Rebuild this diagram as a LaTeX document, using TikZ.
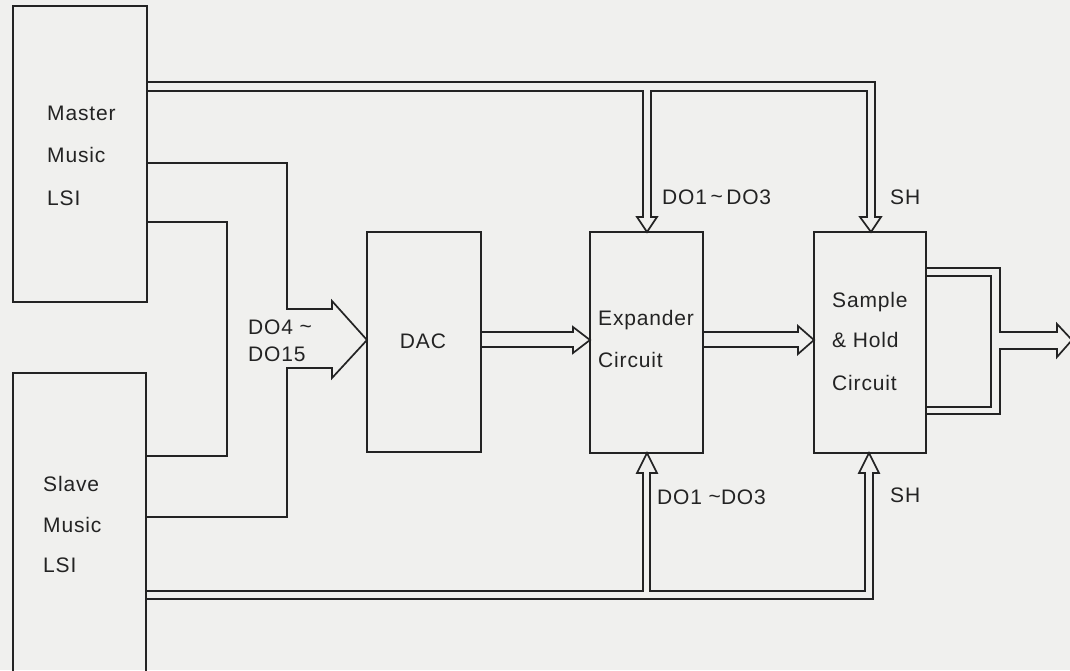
\documentclass[tikz,border=0pt]{standalone}
\usepackage{fontspec}
\setmainfont{Liberation Sans}[LetterSpace=4]
\definecolor{paper}{RGB}{240,240,238}
\definecolor{ink}{RGB}{35,35,35}
\begin{document}
\begin{tikzpicture}[x=1pt,y=-1pt,
  box/.style={draw=ink,line width=2pt,anchor=north west,inner sep=0pt,outer sep=0pt},
  bus/.style={draw=ink,line width=1.7pt,line join=miter},
  lbl/.style={anchor=base west,inner sep=0pt,text=ink,font=\fontsize{21}{25}\selectfont}]
\fill[paper] (0,0) rectangle (1070,670);
\clip (0,0) rectangle (1070,670);
% boxes
\node[box,minimum width=134pt,minimum height=296pt] (master) at (13,6) {};
\node[box,minimum width=133pt,minimum height=330pt] (slave) at (13,373) {};
\node[box,minimum width=114pt,minimum height=220pt] (dac) at (367,232) {};
\node[box,minimum width=113pt,minimum height=221pt] (exp) at (590,232) {};
\node[box,minimum width=112pt,minimum height=221pt] (sh) at (814,232) {};
% texts
\node[lbl] (t1) at (47,120) {Master};
\node[lbl] (t2) at (47,162) {Music};
\node[lbl] (t3) at (47,205) {LSI};
\node[lbl] (t4) at (43,491) {Slave};
\node[lbl] (t5) at (43,532) {Music};
\node[lbl] (t6) at (43,572) {LSI};
\node[lbl,anchor=base] (t7) at (423,348) {DAC};
\node[lbl] (t8) at (598,325) {Expander};
\node[lbl] (t9) at (598,367) {Circuit};
\node[lbl] (t10) at (832,307) {Sample};
\node[lbl] (t11) at (832,347) {\& Hold};
\node[lbl] (t12) at (832,390) {Circuit};
\node[lbl] (t13) at (662,204) {DO1\,{\raisebox{1pt}{\textasciitilde}}\,DO3};
\node[lbl] (t14) at (890,204) {SH};
\node[lbl] (t15) at (657,504) {DO1 {\raisebox{1pt}{\textasciitilde}}DO3};
\node[lbl] (t16) at (890,502) {SH};
\node[lbl] (t17) at (248,334) {DO4 {\raisebox{1pt}{\textasciitilde}}};
\node[lbl] (t18) at (248,361) {DO15};
% master top bus to expander and sample & hold
\draw[bus] (147,82) -- (875,82) -- (875,217) -- (881,217) -- (sh.north -| 871,0) -- (860,217) -- (867,217) -- (867,91)
  -- (651,91) -- (651,217) -- (657,217) -- (exp.north -| 647,0) -- (637,217) -- (643,217) -- (643,91) -- (147,91);
% master/slave buses into DAC
\draw[bus] (147,163) -- (287,163) -- (287,309) -- (332,309) -- (332,301) -- (dac.west |- 0,340) -- (332,378) -- (332,368)
  -- (287,368) -- (287,517) -- (146,517);
\draw[bus] (147,222) -- (227,222) -- (227,456) -- (146,456);
% slave bottom bus
\draw[bus] (146,599) -- (873,599) -- (873,473) -- (879,473) -- (sh.south -| 869,0) -- (859,473) -- (865,473) -- (865,591)
  -- (650,591) -- (650,473) -- (657,473) -- (exp.south -| 647,0) -- (637,473) -- (643,473) -- (643,591) -- (146,591);
% DAC -> expander
\draw[bus] (481,332) -- (573,332) -- (573,327) -- (exp.west |- 0,340) -- (573,353) -- (573,347) -- (481,347);
% expander -> sample & hold
\draw[bus] (703,332) -- (798,332) -- (798,326) -- (sh.west |- 0,340) -- (798,354) -- (798,347) -- (703,347);
% sample & hold output
\coordinate (out) at (1072,340);
\draw[bus] (926,268) -- (1000,268) -- (1000,332) -- (1057,332) -- (1057,324) -- (out) -- (1057,357) -- (1057,349)
  -- (1000,349) -- (1000,414) -- (926,414);
\draw[bus] (926,276) -- (991,276) -- (991,407) -- (926,407);
\end{tikzpicture}
\end{document}
